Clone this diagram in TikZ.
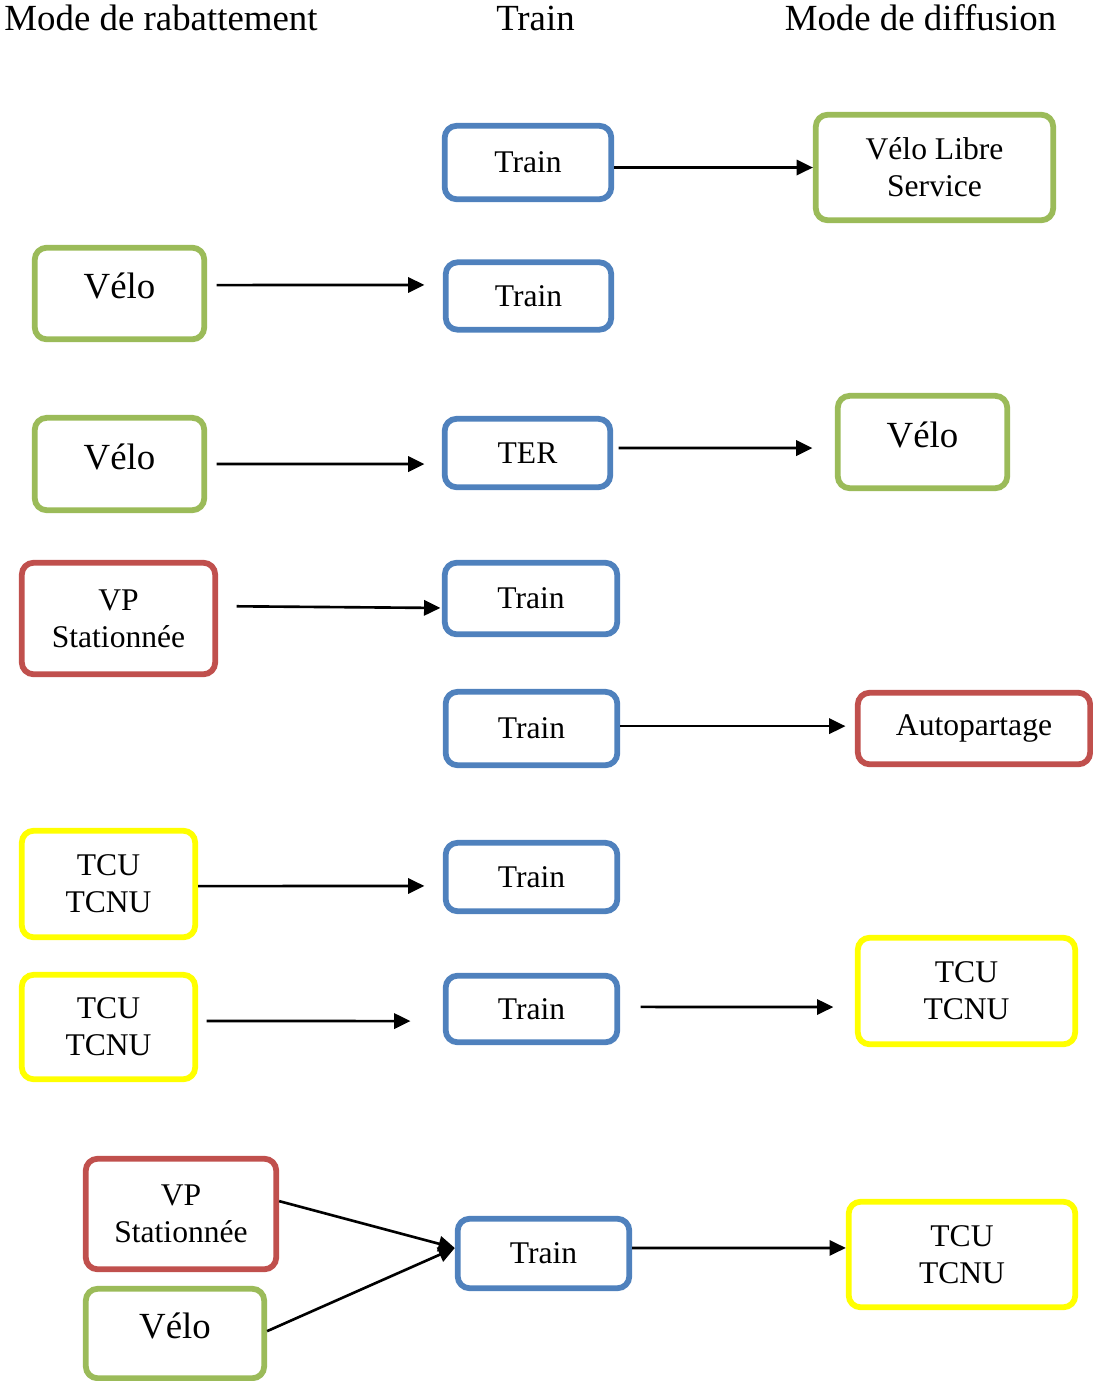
\documentclass[tikz,border=0pt]{standalone}
\usepackage{fontspec}
\setmainfont{Liberation Serif}
\usetikzlibrary{arrows.meta}
\definecolor{boxblue}{HTML}{4F81BD}
\definecolor{boxgreen}{HTML}{9BBB59}
\definecolor{boxred}{HTML}{C0504D}
\definecolor{boxyellow}{HTML}{FFFF00}
\begin{document}
\begin{tikzpicture}[x=0.38pt, y=-0.38pt]

\useasboundingbox (0,0) rectangle (1093,1381);

\tikzset{box/.style={draw, rounded corners=4.5pt, line width=2.2pt, inner sep=0pt, align=center, font=\fontsize{12}{14}\selectfont}}
\tikzset{bluebox/.style={box, draw=boxblue}}
\tikzset{greenbox/.style={box, draw=boxgreen, font=\fontsize{14}{16}\selectfont, text height=8pt, text depth=4pt}}
\tikzset{redbox/.style={box, draw=boxred}}
\tikzset{yellowbox/.style={box, draw=boxyellow}}
\tikzset{header/.style={anchor=base, inner sep=0pt, font=\fontsize{14}{16}\selectfont}}

\node[header] (hrab) at (161,30) {Mode de rabattement};
\node[header] (htrain) at (535.5,30) {Train};
\node[header] (hdiff) at (920.5,30) {Mode de diffusion};

\node[bluebox, minimum width=63.3pt, minimum height=27.9pt] (train1) at (528,162.5) {Train};
\node[bluebox, minimum width=62.9pt, minimum height=25.6pt] (train2) at (528.5,296) {Train};
\node[bluebox, minimum width=62.9pt, minimum height=26pt] (ter) at (527.5,453) {TER};
\node[bluebox, minimum width=65.5pt, minimum height=27.2pt] (train4) at (531,598.5) {Train};
\node[bluebox, minimum width=65.2pt, minimum height=27.9pt] (train5) at (531.5,728.5) {Train};
\node[bluebox, minimum width=65.2pt, minimum height=26pt] (train6) at (531.5,877) {Train};
\node[bluebox, minimum width=65.2pt, minimum height=25.3pt] (train7) at (531.5,1009) {Train};
\node[bluebox, minimum width=65.2pt, minimum height=26.4pt] (train8) at (543.5,1253.5) {Train};

\node[greenbox, minimum width=64.4pt, minimum height=34.8pt] (velo2) at (119.5,293.5) {Vélo};
\node[greenbox, minimum width=64.4pt, minimum height=35.1pt] (velo3) at (119.5,464) {Vélo};
\node[redbox, minimum width=73.5pt, minimum height=42.4pt] (vp4) at (118.5,618.5) {VP\\Stationnée};
\node[yellowbox, minimum width=65.9pt, minimum height=40.5pt] (tcu6) at (108.5,884) {TCU\\TCNU};
\node[yellowbox, minimum width=65.9pt, minimum height=39.7pt] (tcu7) at (108.5,1027) {TCU\\TCNU};
\node[redbox, minimum width=72.4pt, minimum height=42pt] (vp8) at (181,1214) {VP\\Stationnée};
\node[greenbox, minimum width=67.8pt, minimum height=34pt] (velo8) at (175,1333.5) {Vélo};

\node[box, draw=boxgreen, minimum width=90.2pt, minimum height=40.1pt] (vls1) at (934.5,167.5) {Vélo Libre\\Service};
\node[greenbox, minimum width=64.4pt, minimum height=35.1pt] (velo3r) at (922.5,442) {Vélo};
\node[redbox, minimum width=88.3pt, minimum height=27.2pt] (auto5) at (974,728.5) {Autopartage};
\node[yellowbox, minimum width=82.6pt, minimum height=40.5pt] (tcu7r) at (966.5,991) {TCU\\TCNU};
\node[yellowbox, minimum width=86.1pt, minimum height=40.1pt] (tcu8r) at (962,1254.5) {TCU\\TCNU};

\tikzset{arrowstyle/.style={-{Triangle[length=6.2pt, width=5.8pt]}, line width=1pt}}
\path (train1.east |- vls1.west) edge [arrowstyle] (vls1.west);
\path ([yshift=3.2pt]velo2.east) edge [arrowstyle, shorten <=3.6pt, shorten >=7pt] ([yshift=4.2pt]train2.west);
\path (velo3.east) edge [arrowstyle, shorten <=3.6pt, shorten >=6.6pt] ([yshift=-4.2pt]ter.west);
\path ([yshift=1.9pt]ter.east) edge [arrowstyle, shorten <=2.1pt, shorten >=8.5pt] ([yshift=-2.3pt]velo3r.west);
\path ([yshift=4.7pt]vp4.east) edge [arrowstyle, shorten <=7pt, shorten >=0.6pt] ([yshift=-3.6pt]train4.west);
\path ([yshift=0.9pt]train5.east) edge [arrowstyle, shorten >=3.6pt] ([yshift=0.9pt]auto5.west);
\path ([yshift=-0.8pt]tcu6.east) edge [arrowstyle, shorten >=7pt] ([yshift=-3.4pt]train6.west);
\path ([yshift=2.3pt]tcu7.east) edge [arrowstyle, shorten <=3.2pt, shorten >=12.3pt] ([yshift=-4.6pt]train7.west);
\path ([yshift=0.8pt]train7.east) edge [arrowstyle, shorten <=7.8pt, shorten >=8.2pt] ([yshift=-6.1pt]tcu7r.west);
\path ([yshift=4.9pt]vp8.east) edge [arrowstyle] ([yshift=2.1pt]train8.west);
\path ([yshift=0.9pt]velo8.east) edge [arrowstyle] ([yshift=2.1pt]train8.west);
\path ([yshift=2.1pt]train8.east) edge [arrowstyle] ([yshift=2.5pt]tcu8r.west);
\end{tikzpicture}
\end{document}
